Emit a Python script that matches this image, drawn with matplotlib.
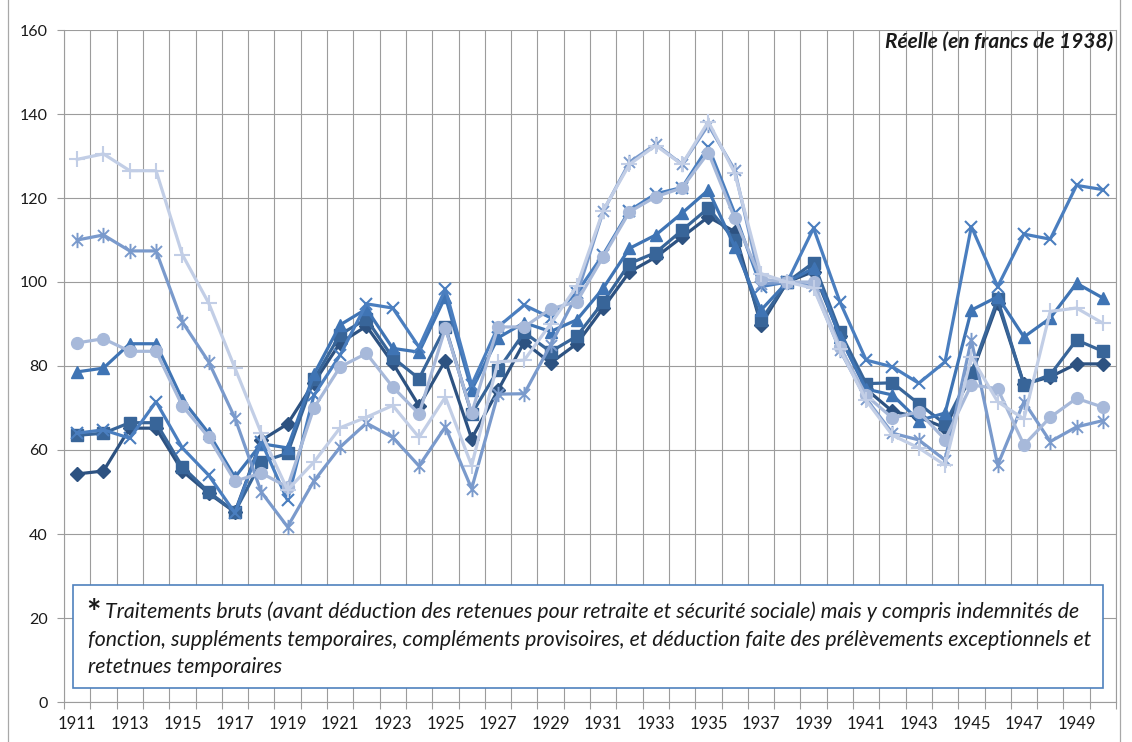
import numpy as np
import matplotlib
matplotlib.use("Agg")
import matplotlib.pyplot as plt
from matplotlib.path import Path
from matplotlib.lines import Line2D
from matplotlib.patches import Rectangle

# ---- data -------------------------------------------------------------
years = list(range(1911, 1951))
tick_years = years[::2]

s_diamond = [54.3, 55.0, 65.2, 65.2, 55.0, 49.7, 45.2, 62.3, 66.2, 76.0,
             85.5, 89.5, 80.7, 70.5, 81.3, 62.7, 74.2, 85.7, 80.7, 85.3,
             93.8, 102.4, 105.9, 110.7, 115.5, 112.0, 89.8, 100.0, 102.5, 87.2,
             74.5, 69.2, 67.8, 65.3, 77.8, 95.0, 75.7, 77.4, 80.5, 80.5]
s_square = [63.5, 64.0, 66.5, 66.5, 56.0, 50.0, 45.3, 57.2, 59.2, 76.8,
            87.5, 91.2, 82.0, 77.0, 89.3, 68.6, 79.0, 88.0, 83.4, 87.1,
            95.2, 104.4, 107.0, 112.3, 117.6, 110.0, 90.9, 100.0, 104.6, 88.2,
            75.8, 76.0, 71.0, 66.2, 78.4, 95.9, 75.5, 77.9, 86.2, 83.5]
s_triangle = [78.6, 79.5, 85.3, 85.3, 72.0, 64.0, 53.5, 61.5, 60.5, 78.0,
              89.8, 93.6, 84.2, 83.3, 96.5, 74.3, 86.7, 90.3, 88.2, 91.0,
              98.5, 108.0, 111.2, 116.4, 121.9, 108.4, 93.3, 100.0, 103.3, 87.0,
              74.5, 73.1, 67.0, 68.8, 93.3, 96.5, 86.9, 91.4, 99.7, 96.2]
s_cross = [64.0, 64.8, 62.8, 71.5, 60.5, 54.0, 45.0, 62.0, 48.0, 73.0,
           82.6, 94.8, 93.8, 84.5, 98.3, 75.5, 89.3, 94.5, 91.5, 97.5,
           106.5, 117.0, 121.0, 122.5, 132.2, 116.4, 98.9, 100.0, 112.8, 95.3,
           81.4, 79.8, 75.9, 81.0, 113.2, 98.9, 111.4, 110.2, 123.0, 122.0]
s_star = [110.0, 111.2, 107.4, 107.4, 90.5, 81.0, 67.6, 50.0, 41.7, 52.6,
          60.7, 66.4, 63.0, 56.2, 65.5, 50.8, 73.3, 73.4, 85.0, 97.0,
          116.8, 128.5, 132.8, 128.0, 137.4, 126.7, 99.5, 100.0, 99.0, 83.8,
          72.2, 64.0, 62.4, 57.6, 86.2, 56.4, 71.5, 62.0, 65.5, 67.0]
s_circle = [85.5, 86.5, 83.5, 83.5, 70.5, 63.0, 52.6, 54.5, 51.2, 70.0,
            79.8, 83.0, 75.0, 68.6, 89.0, 68.8, 89.3, 89.3, 93.6, 95.3,
            106.0, 116.7, 120.3, 122.4, 130.8, 115.2, 100.7, 100.0, 100.0, 84.6,
            73.0, 67.6, 69.1, 62.5, 75.5, 74.6, 61.2, 67.8, 72.3, 70.2]
s_plus = [129.2, 130.5, 126.5, 126.5, 106.5, 95.0, 79.5, 64.0, 50.5, 57.1,
          65.3, 67.8, 70.6, 63.0, 72.6, 56.3, 81.0, 81.4, 90.0, 99.0,
          117.0, 128.0, 132.5, 128.0, 138.2, 126.0, 102.0, 100.0, 98.5, 84.0,
          71.8, 63.5, 60.5, 56.4, 82.2, 71.5, 67.4, 93.0, 93.8, 90.2]

title_text = "Réelle (en francs de 1938)"
note_lines = [
    "Traitements bruts (avant déduction des retenues pour retraite et sécurité sociale) mais y compris indemnités de",
    "fonction, suppléments temporaires, compléments provisoires, et déduction faite des prélèvements exceptionnels et",
    "retetnues temporaires",
]

# ---- style ------------------------------------------------------------
plt.rcParams["font.family"] = ["Lato", "DejaVu Sans"]
W, H = 1132, 742
fig = plt.figure(figsize=(W / 100, H / 100), dpi=100)
fig.patch.set_facecolor("white")

def fx(px):
    return px / W

def fy(py):
    return 1 - py / H

ax = fig.add_axes([fx(64), fy(702), fx(1116) - fx(64), fy(30) - fy(702)])

grid_c = "#9C9C9C"

# asterisk marker: vertical bar crossed by an X
asterisk = Path([(0, -1), (0, 1), (-0.72, -0.72), (0.72, 0.72), (-0.72, 0.72), (0.72, -0.72)],
                [Path.MOVETO, Path.LINETO] * 3)

series = [
    (s_diamond, "#2D5281", "D", 7.0, 1.0),
    (s_square, "#386599", "s", 8.0, 1.0),
    (s_triangle, "#3F74B4", "^", 8.5, 1.0),
    (s_cross, "#4A7EBF", "x", 9.0, 1.5),
    (s_star, "#7A9ACC", asterisk, 11.0, 1.4),
    (s_circle, "#A7B9DA", "o", 8.5, 1.0),
    (s_plus, "#C2CEE6", "+", 11.0, 1.5),
]

x = np.arange(len(years))
for i, (vals, col, mk, ms, mew) in enumerate(series):
    ax.plot(x, vals, color=col, lw=2.3, marker=mk, markersize=ms,
            markerfacecolor=col, markeredgecolor=col, markeredgewidth=mew,
            solid_joinstyle="round", zorder=3 + i, clip_on=False)

ax.set_xlim(-0.5, len(years) - 0.5)
ax.set_ylim(0, 160)

ax.set_xticks(x[::2])
ax.set_xticklabels([str(y) for y in tick_years])
ax.set_xticks(np.arange(-0.5, len(years), 1.0), minor=True)
ax.set_yticks(np.arange(0, 161, 20))

ax.tick_params(axis="x", which="major", length=0, pad=10, labelsize=12, colors="#1A1A1A")
ax.tick_params(axis="x", which="minor", length=5, width=0.8, color=grid_c, direction="out")
ax.tick_params(axis="y", which="major", length=5, width=0.8, color=grid_c, pad=6.5,
               labelsize=11.5, labelcolor="#1A1A1A")

ax.grid(which="minor", axis="x", color=grid_c, lw=0.8)
ax.grid(which="major", axis="y", color=grid_c, lw=0.8)
ax.set_axisbelow(True)

ax.spines["top"].set_visible(False)
for side in ("left", "bottom", "right"):
    ax.spines[side].set_color(grid_c)
    ax.spines[side].set_linewidth(0.8)

# outer frame sides
for xp in (8, 1119.5):
    fig.add_artist(Line2D([fx(xp), fx(xp)], [0, 1], transform=fig.transFigure,
                          color="#A8A8A8", lw=0.9))

renderer = fig.canvas.get_renderer()

def fit(t, target):
    w = t.get_window_extent(renderer).width
    t.set_fontsize(t.get_fontsize() * target / w)

# title at the upper right
title = fig.text(fx(1113), fy(42), title_text, ha="right", va="center",
                 fontsize=12, fontweight="bold", fontstyle="italic", color="#1A1A1A")
fit(title, 228)

# note box
box = Rectangle((fx(73), fy(688)), fx(1103) - fx(73), fy(585) - fy(688),
                transform=fig.transFigure, facecolor="white", edgecolor="#4F81BD",
                lw=1.2, zorder=20)
fig.add_artist(box)

t2 = fig.text(fx(88), fy(646), note_lines[1], ha="left", va="baseline",
              fontsize=12, fontstyle="italic", color="#1A1A1A", zorder=21)
fit(t2, 1000)
fs = t2.get_fontsize()
fig.text(fx(105), fy(618), note_lines[0], ha="left", va="baseline",
         fontsize=fs, fontstyle="italic", color="#1A1A1A", zorder=21)
fig.text(fx(88), fy(673), note_lines[2], ha="left", va="baseline",
         fontsize=fs, fontstyle="italic", color="#1A1A1A", zorder=21)
fig.text(fx(86), fy(624), "*", ha="left", va="baseline",
         fontsize=fs * 1.6, fontweight="bold", color="#1A1A1A", zorder=21)

fig.savefig("out.png", dpi=100, facecolor="white")
